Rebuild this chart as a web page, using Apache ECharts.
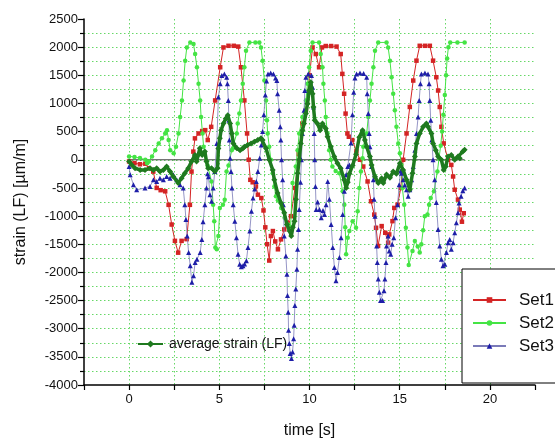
<!DOCTYPE html>
<html><head><meta charset="utf-8">
<script src="https://cdn.jsdelivr.net/npm/echarts@6/dist/echarts.min.js"></script>
<style>html,body{margin:0;padding:0;background:#fff}#c{width:555px;height:444px}</style>
</head><body><div id="c"></div>
<script>
// time [s], strain [µm/m]
var set1 = [[0,-30],[0.3,-60],[0.6,-80],[0.9,-70],[1.1,-150],[1.34,-210],[1.53,-500],[1.75,-540],[2.0,-560],[2.19,-800],[2.36,-1150],[2.54,-1440],[2.72,-1650],[2.91,-1440],[3.19,-1410],[3.37,-800],[3.46,-210],[3.56,145],[3.65,380],[3.85,467],[4.05,510],[4.22,526],[4.36,350],[4.55,585],[4.77,1054],[5.05,1643],[5.23,1995],[5.51,2024],[5.8,2024],[6.05,2010],[6.2,1643],[6.39,1054],[6.54,467],[6.63,0],[6.72,-356],[6.85,-400],[7.03,-473],[7.14,-620],[7.33,-680],[7.45,-900],[7.55,-1200],[7.65,-1500],[7.77,-1790],[7.86,-1354],[7.97,-1266],[8.1,-1450],[8.25,-1590],[8.42,-1414],[8.6,-1237],[8.79,-1120],[8.97,-1002],[9.2,-500],[9.4,100],[9.6,643],[9.8,878],[10.0,1500],[10.17,1995],[10.35,1878],[10.53,1643],[10.69,1995],[10.9,2020],[11.2,2020],[11.5,2010],[11.73,1878],[11.82,1525],[11.92,1172],[12.0,820],[12.1,467],[12.18,409],[12.37,350],[12.6,150],[12.8,0],[12.98,-120],[13.22,-385],[13.41,-737],[13.59,-973],[13.69,-1208],[13.8,-1530],[14.0,-1178],[14.2,-1296],[14.36,-1472],[14.42,-1326],[14.6,-1090],[14.7,-855],[14.88,-797],[15.06,-502],[15.19,0],[15.38,467],[15.56,938],[15.75,1407],[15.93,1760],[16.11,2024],[16.4,2024],[16.67,2024],[16.85,1760],[17.03,1466],[17.13,1230],[17.22,938],[17.31,585],[17.44,291],[17.68,0],[17.86,-91],[17.96,-297],[18.05,-532],[18.23,-708],[18.33,-885],[18.45,-1100],[18.55,-950]];

var set2 = [[0,60],[0.3,50],[0.6,30],[0.9,0],[1.0,-60],[1.1,-30],[1.27,60],[1.45,170],[1.64,291],[1.82,380],[2.0,467],[2.1,526],[2.19,350],[2.28,170],[2.47,115],[2.6,232],[2.74,467],[2.83,760],[2.93,1054],[3.02,1407],[3.11,1760],[3.2,1995],[3.39,2084],[3.57,2054],[3.66,1878],[3.76,1643],[3.85,1349],[3.94,1054],[3.99,760],[4.07,467],[4.13,232],[4.35,-100],[4.57,-385],[4.66,-797],[4.72,-1090],[4.78,-1560],[4.86,-1590],[4.95,-1354],[5.03,-855],[5.2,-797],[5.3,-708],[5.4,-208],[5.51,-100],[5.69,170],[5.76,203],[5.97,467],[6.02,643],[6.11,820],[6.2,1054],[6.3,1349],[6.39,1643],[6.48,1936],[6.67,2084],[7.0,2084],[7.22,2084],[7.31,1995],[7.4,1760],[7.5,1407],[7.59,1054],[7.64,702],[7.68,467],[7.77,232],[7.86,0],[7.96,-238],[8.05,-473],[8.14,-650],[8.25,-720],[8.43,-855],[8.62,-1031],[8.8,-1150],[8.95,-1200],[9.06,-414],[9.24,-120],[9.34,170],[9.43,467],[9.61,760],[9.8,1054],[9.89,1349],[9.98,1643],[10.07,1936],[10.17,2084],[10.53,2084],[10.62,1878],[10.72,1643],[10.77,1349],[10.85,1054],[10.9,760],[11.0,467],[11.09,170],[11.18,0],[11.27,-120],[11.45,-200],[11.66,-238],[11.84,-561],[11.93,-797],[11.98,-1200],[12.03,-1680],[12.12,-1384],[12.21,-1266],[12.39,-1090],[12.58,-1208],[12.67,-914],[12.76,-502],[12.85,-208],[12.94,26],[12.98,232],[13.17,467],[13.26,760],[13.35,1054],[13.44,1349],[13.54,1643],[13.63,1936],[13.81,2084],[14.27,2084],[14.36,1995],[14.46,1760],[14.55,1466],[14.64,1172],[14.73,878],[14.82,585],[14.92,291],[15.01,115],[15.1,-91],[15.15,-502],[15.25,-797],[15.34,-1208],[15.43,-1560],[15.5,-1870],[15.71,-1618],[15.84,-1442],[16.0,-1540],[16.11,-1648],[16.2,-1500],[16.3,-1250],[16.39,-1002],[16.54,-973],[16.63,-797],[16.72,-679],[16.9,-561],[17.09,-208],[17.18,26],[17.27,250],[17.35,500],[17.42,800],[17.5,1150],[17.57,1500],[17.63,1800],[17.7,2000],[17.8,2084],[18.2,2084],[18.6,2084]];

var set3 = [[0,-120],[0.06,-267],[0.24,-444],[0.42,-532],[0.88,-502],[1.16,-473],[1.35,-356],[1.53,-385],[1.71,-326],[1.9,-356],[2.08,-297],[2.27,-326],[2.45,-267],[2.64,-356],[2.82,-444],[3.0,-502],[3.09,-797],[3.15,-1061],[3.22,-1354],[3.3,-1648],[3.39,-1883],[3.48,-2177],[3.57,-2060],[3.66,-1825],[3.76,-1767],[3.94,-1648],[4.03,-1414],[4.1,-1100],[4.2,-800],[4.29,-500],[4.35,-250],[4.4,-300],[4.48,-620],[4.57,-737],[4.66,-502],[4.75,-208],[4.86,291],[4.95,1114],[5.05,1349],[5.14,1495],[5.28,1525],[5.41,1466],[5.45,1349],[5.5,1054],[5.53,702],[5.56,350],[5.6,26],[5.65,-208],[5.7,-502],[5.77,-797],[5.86,-1090],[5.95,-1384],[6.04,-1678],[6.13,-1855],[6.22,-1900],[6.31,-1883],[6.4,-1850],[6.5,-1795],[6.59,-1560],[6.69,-1266],[6.78,-914],[6.87,-679],[6.96,-520],[7.05,-385],[7.14,-208],[7.24,26],[7.33,262],[7.4,500],[7.47,800],[7.55,1150],[7.62,1400],[7.7,1525],[7.85,1540],[8.0,1525],[8.12,1450],[8.19,1407],[8.23,1172],[8.32,878],[8.38,585],[8.41,350],[8.45,0],[8.51,-356],[8.55,-800],[8.6,-1354],[8.69,-1707],[8.75,-2031],[8.78,-2412],[8.82,-2706],[8.84,-3029],[8.88,-3265],[8.93,-3441],[9.0,-3530],[9.06,-3412],[9.12,-3177],[9.15,-2941],[9.19,-2588],[9.24,-2295],[9.3,-1943],[9.34,-1590],[9.39,-1237],[9.43,-885],[9.5,-400],[9.55,0],[9.61,467],[9.7,878],[9.74,1230],[9.8,1466],[9.93,1525],[10.11,1495],[10.17,1290],[10.22,938],[10.26,467],[10.29,0],[10.33,-473],[10.37,-885],[10.45,-750],[10.55,-885],[10.65,-1031],[10.75,-900],[10.83,-973],[10.92,-797],[11.01,-385],[11.1,-700],[11.2,-1150],[11.29,-1560],[11.38,-1913],[11.47,-2148],[11.55,-2000],[11.66,-1737],[11.75,-1384],[11.84,-973],[11.93,-561],[12.03,-268],[12.12,-120],[12.21,-91],[12.3,300],[12.38,800],[12.45,1200],[12.52,1450],[12.61,1525],[12.8,1540],[13.0,1530],[13.17,1466],[13.2,1172],[13.26,820],[13.31,467],[13.35,232],[13.44,-120],[13.54,-356],[13.58,-700],[13.63,-1002],[13.72,-1530],[13.76,-1825],[13.81,-2119],[13.87,-2354],[13.94,-2500],[14.05,-2500],[14.13,-2324],[14.18,-2119],[14.24,-1825],[14.27,-1530],[14.36,-1354],[14.42,-1618],[14.5,-1678],[14.58,-1500],[14.67,-1384],[14.77,-1031],[14.88,-797],[14.97,-444],[15.05,-200],[15.1,-238],[15.19,-356],[15.28,-450],[15.38,-532],[15.47,-650],[15.56,-532],[15.66,-356],[15.75,-120],[15.84,170],[15.93,467],[16.02,760],[16.08,1054],[16.15,1349],[16.2,1525],[16.4,1540],[16.57,1525],[16.63,1349],[16.67,1054],[16.72,702],[16.78,350],[16.85,0],[16.94,-356],[17.03,-760],[17.13,-1237],[17.22,-1530],[17.31,-1767],[17.4,-1883],[17.5,-1855],[17.59,-1648],[17.68,-1472],[17.77,-1414],[17.86,-1590],[17.96,-1472],[18.05,-1296],[18.14,-1120],[18.23,-943],[18.29,-767],[18.4,-650],[18.5,-550],[18.6,-500]];

var avgStrain = [[0,-30],[0.15,-91],[0.33,-150],[0.61,-180],[0.88,-180],[1.16,-150],[1.34,-180],[1.53,-150],[1.71,-208],[1.9,-180],[2.08,-120],[2.27,-208],[2.45,-297],[2.72,-414],[2.91,-326],[3.09,-238],[3.28,-150],[3.46,-30],[3.65,85],[3.74,-30],[3.83,85],[3.92,203],[4.05,85],[4.2,145],[4.29,-30],[4.38,-150],[4.57,-150],[4.75,-208],[4.9,-150],[4.95,200],[5.03,380],[5.1,526],[5.23,643],[5.36,731],[5.47,790],[5.6,643],[5.69,467],[5.78,291],[5.97,203],[6.15,170],[6.3,200],[6.39,232],[6.57,262],[6.76,291],[6.94,320],[7.13,350],[7.31,380],[7.4,350],[7.59,203],[7.77,0],[7.96,-180],[8.05,-356],[8.23,-590],[8.42,-767],[8.6,-943],[8.75,-1150],[8.9,-1266],[8.99,-1354],[9.08,-1200],[9.17,-1090],[9.25,-700],[9.34,-238],[9.43,0],[9.52,291],[9.61,526],[9.7,643],[9.8,820],[9.89,996],[9.98,1230],[10.07,1378],[10.17,1172],[10.22,938],[10.29,702],[10.44,643],[10.59,526],[10.72,643],[10.9,555],[11.0,409],[11.18,232],[11.37,56],[11.55,-62],[11.73,-150],[11.92,-356],[12.03,-500],[12.12,-400],[12.21,-250],[12.39,-100],[12.58,100],[12.76,400],[12.94,526],[13.07,350],[13.17,232],[13.35,56],[13.44,-91],[13.63,-300],[13.81,-414],[14.0,-330],[14.09,-414],[14.27,-260],[14.46,-320],[14.64,-208],[14.82,-250],[15.01,-62],[15.19,-180],[15.38,-356],[15.56,-532],[15.71,-238],[15.84,56],[15.93,291],[16.11,467],[16.3,585],[16.48,643],[16.57,585],[16.76,467],[16.85,291],[17.0,170],[17.13,56],[17.31,0],[17.44,-180],[17.55,-120],[17.68,56],[17.86,85],[18.05,0],[18.23,56],[18.33,26],[18.5,145],[18.6,180]];

var zeroLine = [[0,0],[18.6,0]];

var xTicks = [0,5,10,15,20];
var yTicks = [-4000,-3500,-3000,-2500,-2000,-1500,-1000,-500,0,500,1000,1500,2000,2500];

var FONT = 'Liberation Sans, Arial, sans-serif';
var gridLine = {show:true, lineStyle:{color:'#66d866', type:[1.5,2.5], width:1}};

var chart = echarts.init(document.getElementById('c'), null, {renderer:'canvas'});
chart.setOption({
  animation:false,
  backgroundColor:'#fff',
  textStyle:{fontFamily:FONT},
  grid:{left:84, top:19, width:451, height:369, containLabel:false},
  xAxis:{
    type:'value', min:-2.5, max:22.5, interval:2.5,
    name:'time [s]', nameLocation:'middle', nameGap:38,
    nameTextStyle:{fontSize:16, color:'#111', fontFamily:FONT},
    axisLine:{show:true, onZero:false, lineStyle:{color:'#000', width:1.5}},
    axisTick:{show:true, inside:false, length:5, lineStyle:{color:'#000', width:1.2}},
    axisLabel:{fontSize:13, color:'#111', margin:8, fontFamily:FONT,
      formatter:function(v){ return xTicks.indexOf(Math.round(v*100)/100)>=0 ? String(v) : ''; }},
    splitLine:Object.assign({showMinLine:false, showMaxLine:false}, gridLine)
  },
  yAxis:{
    type:'value', min:-4000, max:2500, interval:500,
    name:'strain (LF) [\u00b5m/m]', nameLocation:'middle', nameGap:55, nameRotate:90,
    nameTextStyle:{fontSize:16, color:'#111', fontFamily:FONT},
    axisLine:{show:true, onZero:false, lineStyle:{color:'#000', width:1.5}},
    axisTick:{show:true, inside:false, length:6, lineStyle:{color:'#000', width:1.2}},
    minorTick:{show:true, splitNumber:2, length:4, lineStyle:{color:'#000', width:1.2}},
    axisLabel:{fontSize:13, color:'#111', margin:6, fontFamily:FONT,
      formatter:function(v){ return yTicks.indexOf(v)>=0 ? String(v) : ''; }},
    splitLine:Object.assign({showMinLine:false, showMaxLine:false}, gridLine),
    minorSplitLine:gridLine
  },
  legend:[{
    data:['Set1','Set2','Set3'],
    orient:'vertical', left:462, top:269,
    padding:[21,40,27,10],
    borderColor:'#000', borderWidth:1, backgroundColor:'#fff',
    itemWidth:33, itemHeight:7, itemGap:3,
    textStyle:{fontSize:17, color:'#111', fontFamily:FONT, lineHeight:20, padding:[0,0,0,8]}
  },{
    data:['average strain (LF)'],
    orient:'horizontal', left:137, top:337, padding:0,
    itemWidth:25, itemHeight:9,
    textStyle:{fontSize:14, color:'#111', fontFamily:FONT, padding:[0,0,0,1]}
  }],
  series:[
    {name:'zero', type:'line', data:zeroLine, showSymbol:false, silent:true,
     lineStyle:{color:'#444', width:1}, z:1},
    {name:'Set1', type:'line', data:set1, symbol:'rect', symbolSize:4.5,
     itemStyle:{color:'#d42424'}, lineStyle:{color:'#d42424', width:1}, z:2},
    {name:'Set2', type:'line', data:set2, symbol:'circle', symbolSize:4.5,
     itemStyle:{color:'#44e444'}, lineStyle:{color:'#44e444', width:1}, z:3},
    {name:'Set3', type:'line', data:set3, symbol:'triangle', symbolSize:5,
     itemStyle:{color:'#1e1ea8'}, lineStyle:{color:'#7a7ab8', width:0.8}, z:4},
    {name:'average strain (LF)', type:'line', data:avgStrain, symbol:'diamond', symbolSize:6,
     itemStyle:{color:'#1f7a1f'}, lineStyle:{color:'#1f7a1f', width:3.5}, z:5}
  ]
});
</script></body></html>
